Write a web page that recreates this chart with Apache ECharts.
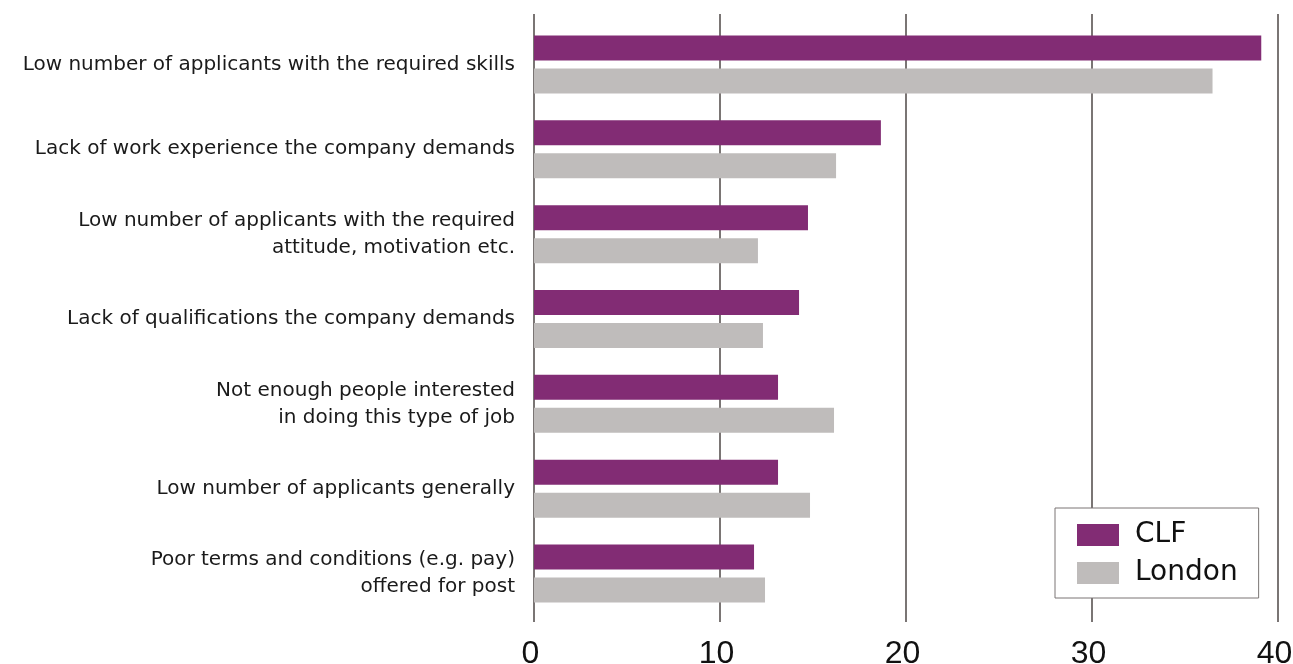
<!DOCTYPE html>
<html>
<head>
<meta charset="utf-8">
<script src="https://cdn.jsdelivr.net/npm/echarts@6/dist/echarts.min.js"></script>
<style>
  html, body { margin: 0; padding: 0; background: #ffffff; }
  #chart { width: 1293px; height: 664px; }
</style>
</head>
<body>
<div id="chart"></div>
<script>
// Reasons given for hard-to-fill vacancies (% of establishments)
const categories = [
  'Low number of applicants with the required skills',
  'Lack of work experience the company demands',
  'Low number of applicants with the required\nattitude, motivation etc.',
  'Lack of qualifications the company demands',
  'Not enough people interested\nin doing this type of job',
  'Low number of applicants generally',
  'Poor terms and conditions (e.g. pay)\noffered for post'
];
const clfValues = [39.1, 18.65, 14.73, 14.25, 13.12, 13.12, 11.83];
const londonValues = [36.48, 16.24, 12.04, 12.31, 16.13, 14.84, 12.42];
const xTicks = [0, 10, 20, 30, 40];

const FONT = '"DejaVu Sans", sans-serif';
const NUM_FONT = '"Liberation Sans", Arial, sans-serif';
const LINE = '#7a7574';

const chart = echarts.init(document.getElementById('chart'), null, { renderer: 'canvas' });

chart.setOption({
  backgroundColor: '#ffffff',
  animation: false,
  grid: { left: 534, right: 15, top: 22, bottom: 48, containLabel: false, outerBoundsMode: 'none' },
  xAxis: [
    {
      type: 'value',
      position: 'bottom',
      min: xTicks[0],
      max: xTicks[xTicks.length - 1],
      interval: 10,
      axisLine: { show: false },
      axisTick: { show: true, length: 6, lineStyle: { color: LINE, width: 2 } },
      splitLine: { show: true, lineStyle: { color: LINE, width: 2 } },
      axisLabel: {
        fontFamily: NUM_FONT,
        fontSize: 32,
        color: '#111111',
        margin: 22,
        padding: [0, 7, 0, 0]
      }
    },
    {
      // short upward extension of the vertical gridlines above the plot
      type: 'value',
      position: 'top',
      min: xTicks[0],
      max: xTicks[xTicks.length - 1],
      interval: 10,
      axisLine: { show: false },
      axisTick: { show: true, length: 8, lineStyle: { color: LINE, width: 2 } },
      splitLine: { show: false },
      axisLabel: { show: false }
    }
  ],
  yAxis: {
    type: 'category',
    data: categories,
    inverse: true,
    axisLine: { show: false },
    axisTick: { show: false },
    axisLabel: {
      fontFamily: FONT,
      fontSize: 20,
      lineHeight: 27,
      color: '#1a1a1a',
      margin: 19,
      align: 'right'
    }
  },
  legend: {
    data: ['CLF', 'London'],
    orient: 'vertical',
    left: 1055,
    top: 508,
    padding: [13, 21, 11, 22],
    itemWidth: 42,
    itemHeight: 22,
    itemGap: 10,
    backgroundColor: '#ffffff',
    borderColor: LINE,
    borderWidth: 1,
    borderRadius: 0,
    icon: 'rect',
    textStyle: { fontFamily: FONT, fontSize: 28, color: '#111111', padding: [0, 0, 0, 11] }
  },
  series: [
    {
      name: 'CLF',
      type: 'bar',
      data: clfValues,
      barWidth: 25,
      barGap: '32%',
      itemStyle: { color: '#822c74' }
    },
    {
      name: 'London',
      type: 'bar',
      data: londonValues,
      barWidth: 25,
      barGap: '32%',
      itemStyle: { color: '#bfbcbb' }
    }
  ]
});
</script>
</body>
</html>
